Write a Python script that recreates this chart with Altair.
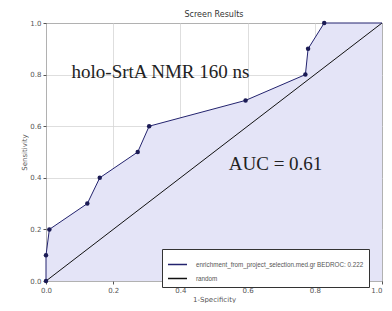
import altair as alt
import pandas as pd

fpr = [0.0, 0.0, 0.01, 0.123, 0.16, 0.273, 0.307, 0.594, 0.772, 0.78, 0.828, 1.0]
tpr = [0.0, 0.1, 0.2, 0.3, 0.4, 0.5, 0.6, 0.7, 0.8, 0.9, 1.0, 1.0]
rand_x = [0.0, 1.0]
rand_y = [0.0, 1.0]
series_name = "enrichment_from_project_selection.med.gr BEDROC: 0.222"
random_name = "random"
ticks = [0.0, 0.2, 0.4, 0.6, 0.8, 1.0]
notes = ["holo-SrtA NMR 160 ns", "AUC = 0.61"]
note_x = [0.076, 0.544]
note_y = [0.81, 0.452]

roc = pd.DataFrame({"x": fpr, "y": tpr, "s": series_name})
rnd = pd.DataFrame({"x": rand_x, "y": rand_y, "s": random_name})
ann = pd.DataFrame({"t": notes, "x": note_x, "y": note_y})

xs = alt.Scale(domain=[0, 1], nice=False)
ys = alt.Scale(domain=[0, 1], nice=False)
xax = alt.Axis(values=ticks, format=".1f", title="1-Specificity",
               labelFlush=False, labelOverlap=False, labelBound=False,
               labelAlign=alt.expr("datum.value >= 1 ? 'right' : 'center'"))
yax = alt.Axis(values=ticks, format=".1f", title="Sensitivity",
               labelFlush=False, labelOverlap=False)
color = alt.Color(
    "s:N",
    scale=alt.Scale(domain=[series_name, random_name], range=["#23236e", "#111111"]),
    legend=alt.Legend(
        title=None, orient="none", legendX=116, legendY=226,
        symbolType="stroke", symbolStrokeWidth=1.5, symbolSize=361,
        labelFontSize=6.3, labelColor="#555", labelLimit=400,
        fillColor="white", strokeColor="#333", padding=5,
        rowPadding=0, labelOffset=8,
    ),
)

area = alt.Chart(roc).mark_area(color="#e4e4f7", opacity=1, interpolate="linear").encode(
    x=alt.X("x:Q", scale=xs, axis=xax), y=alt.Y("y:Q", scale=ys, axis=yax)
)
line = alt.Chart(roc).mark_line(strokeWidth=1).encode(
    x="x:Q", y="y:Q", color=color, order=alt.Order("y:Q")
)
pts = alt.Chart(roc.iloc[:-1]).mark_point(filled=True, size=20, color="#1b1b55", opacity=1).encode(
    x="x:Q", y="y:Q"
)
diag = alt.Chart(rnd).mark_line(strokeWidth=1).encode(x="x:Q", y="y:Q", color=color)
txt = alt.Chart(ann).mark_text(
    align="left", baseline="middle", font="Liberation Serif", fontSize=19, color="#222"
).encode(x="x:Q", y="y:Q", text="t:N")

chart = alt.layer(area, diag, line, pts, txt).properties(
    width=336, height=258,
    autosize=alt.AutoSizeParams(type="none"),
    padding={"left": 38, "top": 15, "right": 2, "bottom": 22},
    title=alt.TitleParams("Screen Results", fontSize=8, fontWeight="normal",
                          font="DejaVu Sans", color="#333", offset=0),
).configure_view(stroke="#222", strokeWidth=1, fill="white").configure_axis(
    grid=True, gridColor="#d6d6d6", gridWidth=0.8, domain=False,
    labelFontSize=7, labelColor="#555", titleFontSize=7, titleColor="#555",
    titleFontWeight="normal", tickColor="#555", tickSize=3, labelPadding=2,
    titlePadding=2, labelFont="DejaVu Sans", titleFont="DejaVu Sans",
)

chart.save("out.html", embed_options={"renderer": "svg", "actions": False})
